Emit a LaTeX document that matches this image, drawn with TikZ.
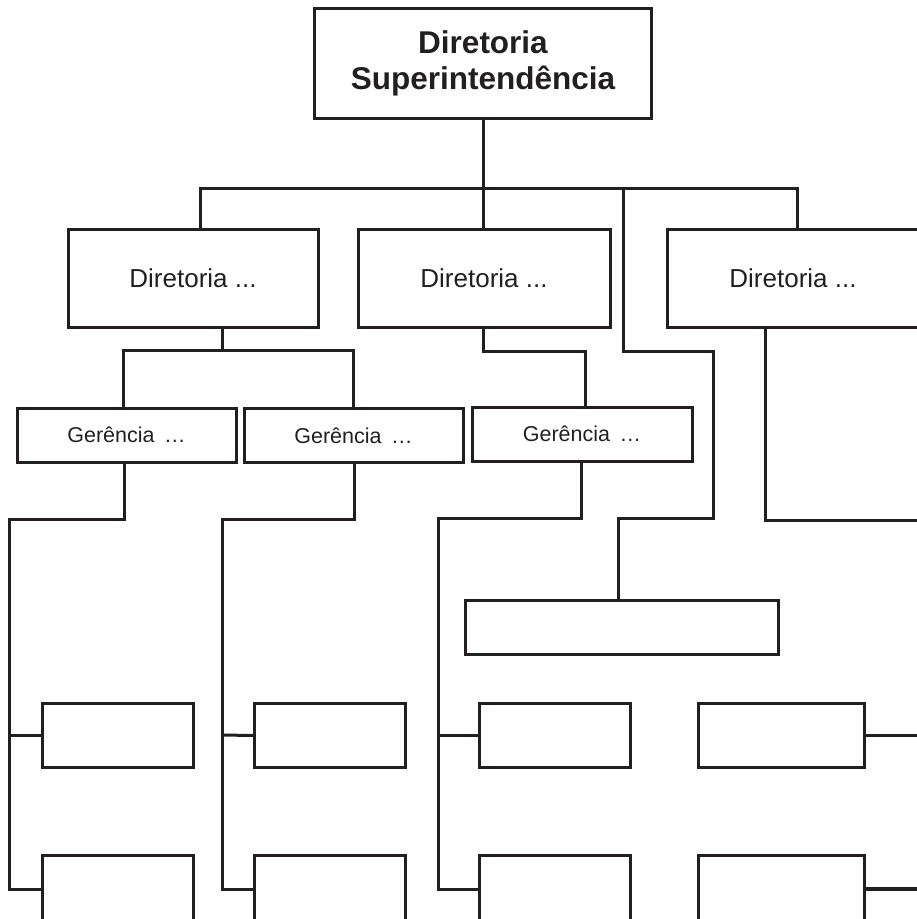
\documentclass[tikz,border=0pt]{standalone}
\usepackage{fontspec}
\setmainfont{Liberation Sans}
\definecolor{ink}{RGB}{35,31,32}
\begin{document}
\begin{tikzpicture}[x=1pt,y=-1pt,
  ln/.style={draw=ink,line width=3pt},
  box/.style={ln,rectangle,inner sep=0pt,text=ink},
  dirbox/.style={box,minimum width=252pt,minimum height=98pt,font=\fontsize{26}{30}\selectfont},
  gerbox/.style={box,minimum width=219pt,minimum height=54pt,font=\fontsize{21.5}{25}\selectfont},
  leaf/.style={box,minimum width=151pt,minimum height=64pt},
  leafb/.style={box,minimum width=151pt,minimum height=68pt}]
\useasboundingbox (0,0) rectangle (917,919);
\clip (0,0) rectangle (917,919);
% top
\node[box,minimum width=337pt,minimum height=110pt,align=center,
      font=\fontsize{31.5}{36}\bfseries\selectfont] (T) at (483,63) {Diretoria\\Superintendência};
% directorates
\node[dirbox,minimum width=250pt] (D1) at (193,278) {Diretoria ...};
\node[dirbox] (D2) at (484,278) {Diretoria ...};
\node[dirbox] (D3) at (793,278) {Diretoria ...};
% managements
\node[gerbox] (G1) at (126.5,435) {Gerência \,…};
\node[gerbox] (G2) at (353.5,435.5) {Gerência \,…};
\node[gerbox,minimum width=220pt] (G3) at (582,434) {Gerência \,…};
% wide box
\node[box,minimum width=313pt,minimum height=54pt] (W) at (621.5,627) {};
% leaf boxes
\node[leaf] (A1) at (117.5,735) {};
\node[leaf] (B1) at (330,735.5) {};
\node[leaf] (C1) at (554.5,735) {};
\node[leaf,minimum width=166pt] (E1) at (781,735) {};
\node[leafb] (A2) at (117.5,889) {};
\node[leafb] (B2) at (330,889) {};
\node[leafb] (C2) at (554.5,889) {};
\node[leafb,minimum width=166pt] (E2) at (781,889) {};
% connectors top level
\draw[ln] (T.south) -- (T.south |- D2.north);
\draw[ln] (D1.north -| 200,0) -- (200,188) -- (797,188) -- (D3.north -| 797,0);
\draw[ln] (623,188) -- (623,351) -- (713,351) -- (713,518) -- (618,518) -- (W.north -| 618,0);
% D1 to G1, G2
\draw[ln] (D1.south -| 222,0) -- (222,350);
\draw[ln] (G1.north -| 123,0) -- (123,350) -- (353,350) -- (G2.north -| 353,0);
% D2 to G3
\draw[ln] (D2.south -| 483,0) -- (483,351) -- (585,351) -- (G3.north -| 585,0);
% D3 down and right
\draw[ln] (D3.south -| 765,0) -- (765,520) -- (920,520);
% G1 column
\draw[ln] (G1.south -| 124,0) -- (124,519) -- (9,519) -- (9,889) -- (A2.west);
\draw[ln] (9,735) -- (A1.west);
% G2 column
\draw[ln] (G2.south -| 354,0) -- (354,519) -- (222,519) -- (222,889) -- (B2.west);
\draw[ln] (222,735) -- (B1.west);
% G3 column
\draw[ln] (G3.south -| 581,0) -- (581,518) -- (438,518) -- (438,889) -- (C2.west);
\draw[ln] (438,735) -- (C1.west);
% right leaves
\draw[ln] (E1.east) -- (920,735);
\draw[ln,line width=4pt] (E2.east) -- (920,889);
\end{tikzpicture}
\end{document}
